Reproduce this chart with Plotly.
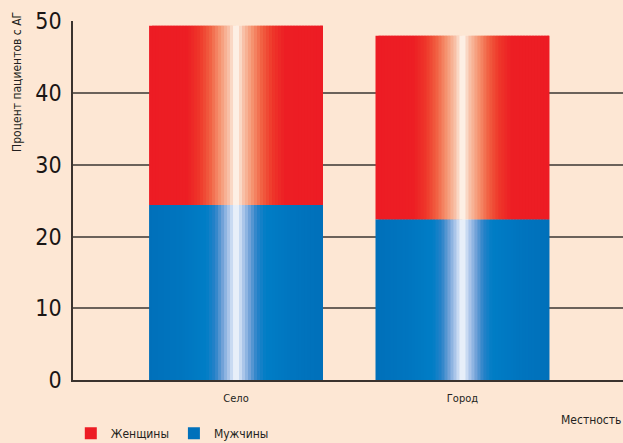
import plotly.graph_objects as go

categories = ["Село", "Город"]
men = [24.4, 22.4]
women = [25.0, 25.6]
series_names = ["Женщины", "Мужчины"]
y_ticks = [0, 10, 20, 30, 40, 50]

BG = "#FDE7D4"
FONT = "Liberation Sans Narrow, DejaVu Sans Condensed, Arial Narrow, sans-serif"
BAR_W = 0.768
N = 58

red_stops = [(0.0, (255, 250, 245)), (0.012, (252, 235, 222)), (0.04, (248, 195, 170)),
             (0.09, (245, 150, 115)), (0.15, (241, 95, 65)), (0.21, (238, 55, 42)),
             (0.28, (237, 30, 36)), (0.5, (237, 28, 36))]
blue_stops = [(0.0, (245, 248, 253)), (0.012, (225, 235, 248)), (0.04, (175, 200, 235)),
              (0.08, (110, 160, 215)), (0.12, (40, 130, 200)), (0.17, (0, 126, 198)),
              (0.3, (0, 118, 192)), (0.5, (0, 112, 186))]


def grad(d, stops):
    for (d0, c0), (d1, c1) in zip(stops[:-1], stops[1:]):
        if d <= d1:
            t = (d - d0) / (d1 - d0) if d1 > d0 else 0
            c = [round(a + (b - a) * t) for a, b in zip(c0, c1)]
            return "rgb(%d,%d,%d)" % tuple(c)
    return "rgb(%d,%d,%d)" % stops[-1][1]


fig = go.Figure()
step = BAR_W / N
for seg, (vals, base, stops, name) in enumerate([
        (men, None, blue_stops, series_names[1]),
        (women, men, red_stops, series_names[0])]):
    for j in range(N):
        off = -BAR_W / 2 + j * step
        center = (j + 0.5) / N
        d = abs(center - 0.5)
        w = step * (1.0 if j == N - 1 else 1.9)
        fig.add_trace(go.Bar(
            x=categories, y=vals, base=base, offset=off, width=w,
            marker=dict(color=grad(d, stops), line=dict(width=0)),
            name=name, legendgroup=name, showlegend=(j == N - 2),
            legendrank=(1 if name == series_names[0] else 2),
            hoverinfo="skip"))

fig.update_layout(
    width=623, height=443,
    margin=dict(l=73, r=0, t=21, b=63, autoexpand=False),
    paper_bgcolor=BG, plot_bgcolor=BG,
    barmode="overlay",
    font=dict(family=FONT, color="#231f20"),
    showlegend=True,
    legend=dict(orientation="h", x=-0.004, xanchor="left",
                yref="container", y=0.022, yanchor="middle",
                font=dict(size=12, family=FONT), bgcolor="rgba(0,0,0,0)",
                traceorder="normal", itemwidth=30),
    xaxis=dict(range=[-0.72, 1.709], showgrid=False, showline=True,
               linecolor="#3a332e", linewidth=1.5, ticks="",
               tickfont=dict(size=11, family=FONT), ticklabelstandoff=7,
               fixedrange=True),
    yaxis=dict(range=[0, 50.05], tickvals=y_ticks, showgrid=True,
               gridcolor="#6b625a", gridwidth=1.5, zeroline=False,
               showline=True, linecolor="#3a332e", linewidth=1.5,
               ticks="", tickfont=dict(size=23, family=FONT, color="#1a1615"),
               ticklabelstandoff=5, fixedrange=True),
    annotations=[
        dict(text="Процент пациентов с АГ", textangle=-90, xref="paper", yref="paper",
             x=-0.102, y=0.83, xanchor="center", yanchor="middle", showarrow=False,
             font=dict(size=12, family=FONT)),
        dict(text="Местность", xref="paper", yref="paper", x=1.0, y=-0.111,
             xanchor="right", yanchor="middle", showarrow=False,
             font=dict(size=12, family=FONT)),
    ],
)

fig.write_html("out.html")
